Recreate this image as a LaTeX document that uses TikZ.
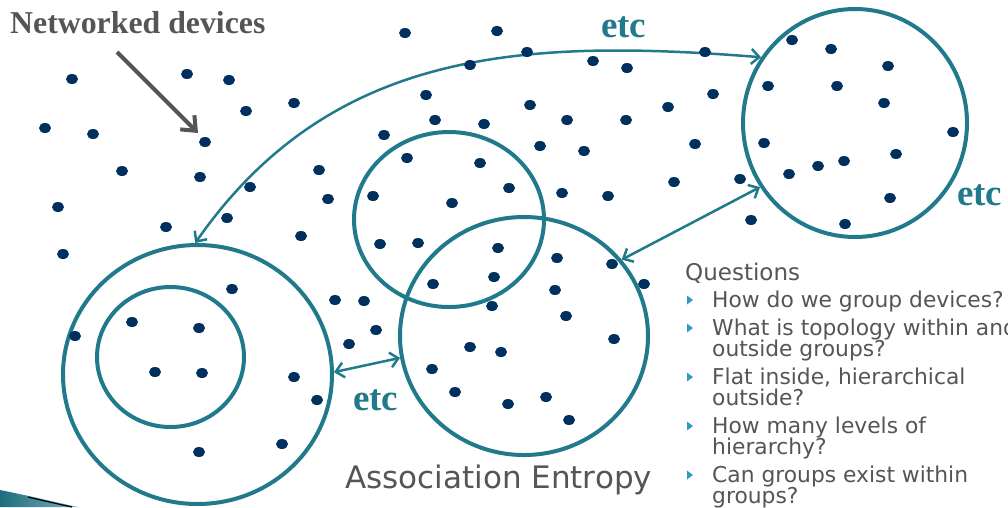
\documentclass[tikz,border=0pt]{standalone}
\usepackage{fontspec}
\usetikzlibrary{shapes.geometric,arrows.meta}
\newfontfamily\labelserif{Liberation Serif}
\newfontfamily\bodysans{DejaVu Sans}
\definecolor{groupteal}{HTML}{217A8C}
\definecolor{devnavy}{HTML}{00305E}
\definecolor{textgray}{HTML}{555555}
\definecolor{bulletblue}{HTML}{2E9BC0}
\tikzset{
  group/.style={ellipse, draw=groupteal, line width=4pt, inner sep=0pt},
  link/.style={draw=groupteal, line width=2.5pt, {Straight Barb[length=8pt,width=15pt]}-{Straight Barb[length=8pt,width=15pt]}},
  etclabel/.style={text=groupteal, font=\labelserif\bfseries\fontsize{37}{37}\selectfont, inner sep=0pt, anchor=base west},
  qline/.style={text=textgray, font=\bodysans\fontsize{21.8}{21.8}\selectfont, inner sep=0pt, anchor=base west},
  qbullet/.style={fill=bulletblue},
  device/.style={fill=devnavy}
}
\begin{document}
\begin{tikzpicture}[x=1pt,y=-1pt]
\useasboundingbox (0,0) rectangle (1008,507);

% groups of devices
\node[group, minimum width=269pt, minimum height=259pt] (outerL) at (197.5,374.5) {};
\node[group, minimum width=147pt, minimum height=140pt] (innerL) at (170.5,357) {};
\node[group, minimum width=190pt, minimum height=175pt] (upperM) at (449,219.5) {};
\node[group, minimum width=248pt, minimum height=238pt] (lowerM) at (524,336) {};
\node[group, minimum width=224pt, minimum height=228pt] (farR) at (855,123) {};

% links between groups
\draw[link] (outerL.91) .. controls (330,50) and (520,38) .. (farR.145);
\draw[link] (outerL.1) -- (lowerM.190);
\draw[link] (lowerM.38) -- (farR.214);

% devices
\foreach \px/\py in {
  72/79,187/74,229/80,246/111,294/103,45/128,93/134,205/142,
  122/171,200/177,250/187,319/170,
  58/207,166/227,227/218,328/199,301/236,63/254,
  405/33,497/31,527/52,470/65,593/61,627/68,705/52,
  426/95,530/105,668/107,713/94,
  384/135,435/120,484/124,567/120,626/120,
  407/158,480/163,540/146,584/151,695/144,
  373/196,452/203,509/188,562/193,608/196,674/182,740/179,
  380/244,418/243,498/248,494/277,433/284,
  557/258,612/264,644/284,555/290,492/306,566/316,614/339,
  470/347,501/352,432/369,455/392,508/404,546/397,569/420,
  751/220,
  232/289,335/300,364/301,376/330,349/344,132/322,199/328,75/336,
  155/372,202/373,294/377,317/400,282/444,199/452,
  792/40,831/49,888/66,768/86,837/86,884/103,953/132,764/143,
  896/154,844/161,818/166,789/174,890/198,845/224}
  \fill[device] (\px,\py) ellipse [x radius=6pt, y radius=5pt];

% labels
\node[text=textgray, font=\labelserif\bfseries\fontsize{31.8}{31.8}\selectfont, inner sep=0pt, anchor=base west] (netdev) at (10,33) {Networked devices};
\coordinate (ndtail) at (117,52);
\coordinate (ndtip) at (198,133);
\draw[textgray, line width=4pt, -{Straight Barb[length=12pt,width=20pt]}] (ndtail) -- (ndtip);

\node[etclabel] (etcTop) at (601,37) {etc};
\node[etclabel] (etcRight) at (957,205) {etc};
\node[etclabel] (etcMid) at (353,410) {etc};

\node[text=textgray, font=\bodysans\fontsize{31}{31}\selectfont, inner sep=0pt, anchor=base west] (title) at (345,488) {Association Entropy};

% questions list
\node[qline, font=\bodysans\fontsize{23}{23}\selectfont] (qhead) at (685,280) {Questions};
\node[qline] (q1a) at (712,307) {How do we group devices?};
\node[qline] (q2a) at (712,335) {What is topology within and};
\node[qline] (q2b) at (712,356) {outside groups?};
\node[qline] (q3a) at (712,384) {Flat inside, hierarchical};
\node[qline] (q3b) at (712,405) {outside?};
\node[qline] (q4a) at (712,433) {How many levels of};
\node[qline] (q4b) at (712,454) {hierarchy?};
\node[qline] (q5a) at (712,482) {Can groups exist within};
\node[qline] (q5b) at (712,503) {groups?};
\foreach \by in {307,335,384,433,482}
  \fill[qbullet] (687,\by-11.5) -- (693,\by-7) -- (687,\by-2.5) -- cycle;

% corner swoosh
\shade[left color=groupteal!90!black, right color=groupteal!60!white] (0,490) .. controls (30,496) and (55,502) .. (78,507) -- (0,507) -- cycle;
\draw[black, line width=1.2pt] (28,497) .. controls (45,501) and (58,504) .. (72,507);
\end{tikzpicture}
\end{document}
